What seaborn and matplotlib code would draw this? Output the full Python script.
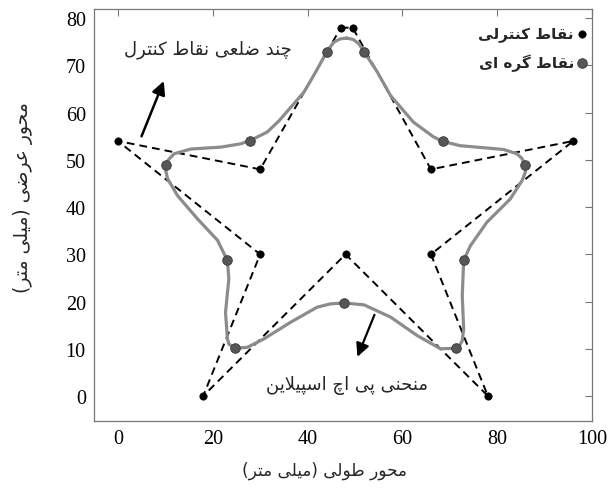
import numpy as np
import pandas as pd
import matplotlib
matplotlib.use("Agg")
import matplotlib.pyplot as plt
import seaborn as sns

# ---------------- data ----------------
ctrl_x = [47, 49.5, 66, 96, 66, 78, 48, 18, 30, 0, 30, 47]
ctrl_y = [78, 78, 48, 54, 30, 0, 30, 0, 30, 54, 48, 78]

knot_x = [44.0, 51.9, 68.5, 85.8, 72.9, 71.2, 47.6, 24.7, 23.1, 10.1, 27.9]
knot_y = [72.8, 72.9, 53.9, 48.9, 28.7, 10.1, 19.7, 10.1, 28.7, 49.0, 54.1]

curve_x = [48.2, 49.6, 50.8, 51.9, 54.7, 57.5, 62.3, 66.5, 68.5, 72.2, 81.3, 84.1,
           85.2, 85.8, 85.9, 85.2, 82.7, 77.8, 74.3, 72.9, 72.6, 72.9, 72.6, 72.1,
           71.2, 68.0, 63.1, 57.5, 51.9, 47.6, 44.8, 42.0, 36.4, 30.8, 27.3, 24.7,
           23.4, 23.1, 22.7, 23.4, 23.1, 21.0, 16.8, 12.6, 10.5, 10.1, 10.1, 10.8,
           11.9, 15.4, 21.7, 25.9, 27.9, 31.5, 34.0, 39.2, 41.7, 44.0, 45.5, 46.8,
           48.2]
curve_y = [75.8, 75.5, 74.6, 72.9, 68.6, 63.6, 58.0, 54.9, 53.9, 53.0, 52.2, 51.3,
           50.3, 48.9, 47.4, 45.6, 41.7, 36.8, 31.8, 28.7, 21.2, 14.2, 11.7, 10.8,
           10.1, 10.0, 12.8, 16.7, 19.3, 19.7, 19.5, 18.8, 15.6, 12.1, 10.3, 10.1,
           11.0, 12.1, 17.7, 24.8, 28.7, 33.0, 37.5, 42.4, 46.0, 47.7, 49.0, 50.2,
           51.3, 52.3, 52.7, 53.4, 54.1, 55.9, 58.3, 64.3, 68.6, 72.8, 74.9, 75.6,
           75.8]

x_ticks = [0, 20, 40, 60, 80, 100]
y_ticks = [0, 10, 20, 30, 40, 50, 60, 70, 80]

label_ctrl = "نقاط کنترلی"
label_knot = "نقاط گره ای"
note_poly = "چند ضلعی نقاط کنترل"
note_curve = "منحنی پی اچ اسپیلاین"
xlabel = "محور طولی (میلی متر)"
ylabel = "محور عرضی (میلی متر)"

# ------------- simple Persian shaping -------------
FORMS = {
    'ا': ('\uFE8D', '\uFE8E', None, None),
    'پ': ('\uFB56', '\uFB57', '\uFB58', '\uFB59'),
    'ت': ('\uFE95', '\uFE96', '\uFE97', '\uFE98'),
    'ح': ('\uFEA1', '\uFEA2', '\uFEA3', '\uFEA4'),
    'چ': ('\uFB7A', '\uFB7B', '\uFB7C', '\uFB7D'),
    'د': ('\uFEA9', '\uFEAA', None, None),
    'ر': ('\uFEAD', '\uFEAE', None, None),
    'س': ('\uFEB1', '\uFEB2', '\uFEB3', '\uFEB4'),
    'ض': ('\uFEBD', '\uFEBE', '\uFEBF', '\uFEC0'),
    'ط': ('\uFEC1', '\uFEC2', '\uFEC3', '\uFEC4'),
    'ع': ('\uFEC9', '\uFECA', '\uFECB', '\uFECC'),
    'ق': ('\uFED5', '\uFED6', '\uFED7', '\uFED8'),
    'ک': ('\uFB8E', '\uFB8F', '\uFB90', '\uFB91'),
    'گ': ('\uFB92', '\uFB93', '\uFB94', '\uFB95'),
    'ل': ('\uFEDD', '\uFEDE', '\uFEDF', '\uFEE0'),
    'م': ('\uFEE1', '\uFEE2', '\uFEE3', '\uFEE4'),
    'ن': ('\uFEE5', '\uFEE6', '\uFEE7', '\uFEE8'),
    'ه': ('\uFEE9', '\uFEEA', '\uFEEB', '\uFEEC'),
    'و': ('\uFEED', '\uFEEE', None, None),
    'ی': ('\uFBFC', '\uFBFD', '\uFBFE', '\uFBFF'),
    'لا': ('\uFEFB', '\uFEFC', None, None),
}


def shape(s):
    letters = []
    i = 0
    while i < len(s):
        if s[i] == 'ل' and i + 1 < len(s) and s[i + 1] == 'ا':
            letters.append('لا')
            i += 2
        else:
            letters.append(s[i])
            i += 1

    def joins_next(c):
        return c in FORMS and FORMS[c][2] is not None

    res = []
    for k, c in enumerate(letters):
        if c not in FORMS:
            res.append(c)
            continue
        prev = letters[k - 1] if k > 0 else None
        nxt = letters[k + 1] if k + 1 < len(letters) else None
        jp = prev is not None and joins_next(prev)
        jn = joins_next(c) and nxt is not None and nxt in FORMS
        iso, fin, ini, med = FORMS[c]
        if jp and jn:
            res.append(med)
        elif jp:
            res.append(fin)
        elif jn:
            res.append(ini)
        else:
            res.append(iso)
    vis = ''.join(res)[::-1]
    return vis.translate(str.maketrans('()', ')('))


# ---------------- plot ----------------
sns.set_theme(style="white")
plt.rcParams['font.family'] = ['Liberation Serif', 'DejaVu Sans']
plt.rcParams['axes.unicode_minus'] = False

fig = plt.figure(figsize=(6.15, 4.89), dpi=100)
ax = fig.add_axes([0.153, 0.137, 0.81, 0.843])

curve_df = pd.DataFrame({'x': curve_x, 'y': curve_y})
ctrl_df = pd.DataFrame({'x': ctrl_x, 'y': ctrl_y})
knot_df = pd.DataFrame({'x': knot_x, 'y': knot_y})

sns.lineplot(data=ctrl_df, x='x', y='y', sort=False, estimator=None, ax=ax,
             color='black', linewidth=1.4, linestyle=(0, (4, 2.6)), zorder=2)
sns.lineplot(data=curve_df, x='x', y='y', sort=False, estimator=None, ax=ax,
             color='#8c8c8c', linewidth=2.3, zorder=3)
ax.lines[-1].set_solid_joinstyle('round')
ax.lines[-1].set_solid_capstyle('round')
sns.scatterplot(data=ctrl_df.iloc[:-1], x='x', y='y', ax=ax, color='black',
                s=28, edgecolor='black', linewidth=0.5, zorder=4,
                label=shape(label_ctrl))
sns.scatterplot(data=knot_df, x='x', y='y', ax=ax, color='#565656',
                s=48, edgecolor='#3a3a3a', linewidth=0.6, zorder=5,
                label=shape(label_knot))

ax.set_xlim(-5, 100)
ax.set_ylim(-5.3, 82)
ax.set_xticks(x_ticks)
ax.set_yticks(y_ticks)
ax.tick_params(axis='both', which='both', direction='in', length=5,
               width=0.8, color='#777777', labelsize=14.5, labelcolor='black',
               top=True, right=True, labeltop=False, labelright=False, pad=6)
for lab in ax.get_xticklabels() + ax.get_yticklabels():
    lab.set_fontfamily(['Liberation Serif', 'DejaVu Serif'])
for sp in ax.spines.values():
    sp.set_color('#777777')
    sp.set_linewidth(0.9)

ax.set_xlabel(shape(xlabel), fontsize=12.2, family=['DejaVu Sans'])
ax.xaxis.set_label_coords(0.462, -0.097)
ax.set_ylabel(shape(ylabel), fontsize=13.5, family=['DejaVu Sans'])
ax.yaxis.set_label_coords(-0.122, 0.544)

ax.annotate('', xy=(9.7, 66.7), xytext=(5.0, 55.0),
            arrowprops=dict(arrowstyle='-|>', color='black', lw=1.8,
                            mutation_scale=20, shrinkA=0, shrinkB=0))
ax.text(19, 73.5, shape(note_poly), ha='center', va='center', fontsize=13,
        family=['DejaVu Sans'])
ax.annotate('', xy=(50.5, 8.3), xytext=(54.1, 17.2),
            arrowprops=dict(arrowstyle='-|>', color='black', lw=1.6,
                            mutation_scale=20, shrinkA=0, shrinkB=0))
ax.text(48.4, 2.5, shape(note_curve), ha='center', va='center', fontsize=13,
        family=['DejaVu Sans'])

leg = ax.legend(loc='upper right', frameon=False, markerfirst=False,
                prop={'family': ['DejaVu Sans'], 'size': 11, 'weight': 'bold'},
                handletextpad=0.1, borderaxespad=0.0, labelspacing=0.7,
                handlelength=0.8, bbox_to_anchor=(1.003, 0.972))

fig.savefig('out.png', dpi=100)
